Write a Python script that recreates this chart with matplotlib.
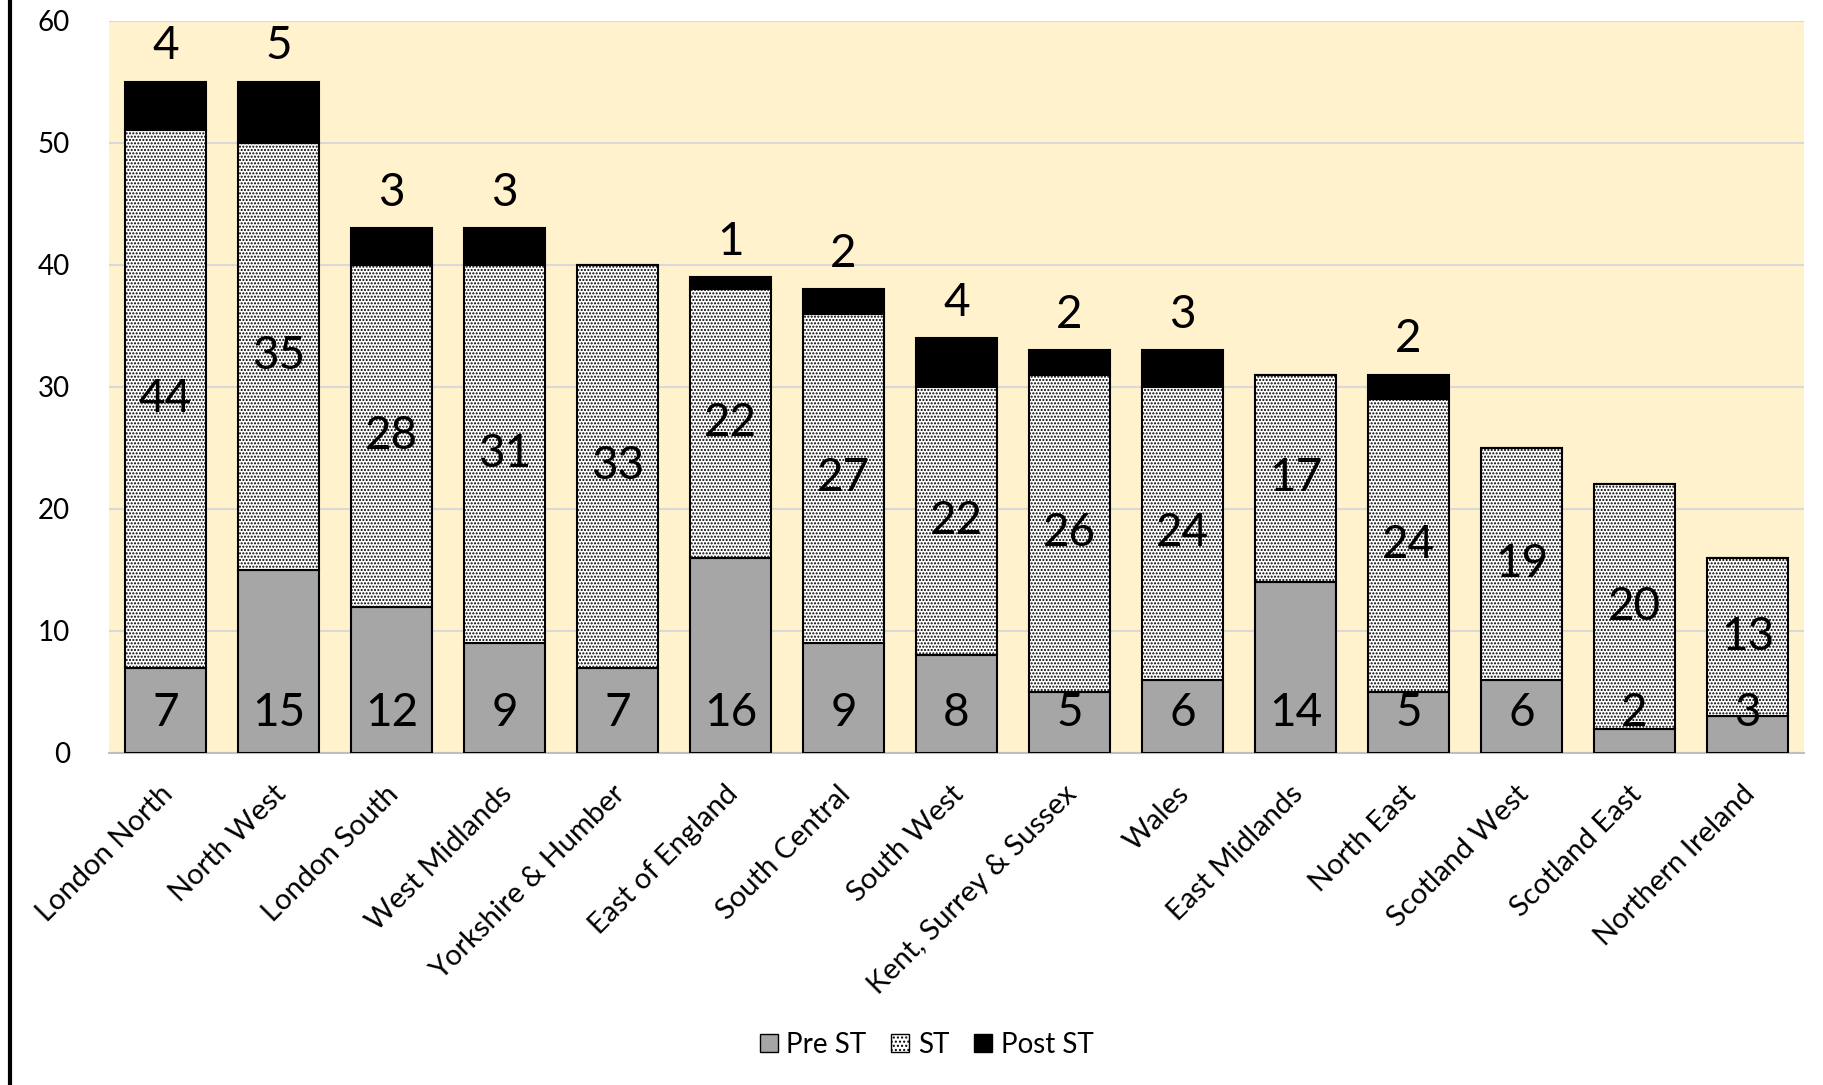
import matplotlib.pyplot as plt
import numpy as np
import matplotlib.transforms as mtransforms
from matplotlib.lines import Line2D
from matplotlib.patches import Patch

plt.rcParams['font.family'] = ['Lato', 'DejaVu Sans']
plt.rcParams['hatch.linewidth'] = 1.0

regions = ['London North', 'North West', 'London South', 'West Midlands',
           'Yorkshire & Humber', 'East of England', 'South Central', 'South West',
           'Kent, Surrey & Sussex', 'Wales', 'East Midlands', 'North East',
           'Scotland West', 'Scotland East', 'Northern Ireland']
pre_st = [7, 15, 12, 9, 7, 16, 9, 8, 5, 6, 14, 5, 6, 2, 3]
st = [44, 35, 28, 31, 33, 22, 27, 22, 26, 24, 17, 24, 19, 20, 13]
post_st = [4, 5, 3, 3, 0, 1, 2, 4, 2, 3, 0, 2, 0, 0, 0]

pre = np.array(pre_st)
mid = np.array(st)
post = np.array(post_st)
x = np.arange(len(regions))

fig = plt.figure(figsize=(18.24, 10.85), dpi=100)
ax = fig.add_axes([0.0598, 0.306, 0.9292, 0.675])
ax.set_facecolor('#FFF2CC')

w = 0.71
ax.bar(x, pre, w, color='#A6A6A6', edgecolor='black', linewidth=1.5, zorder=3)
ax.bar(x, mid, w, bottom=pre, color='white', edgecolor='black', hatch='.....',
       linewidth=1.5, zorder=3)
ax.bar(x, post, w, bottom=pre + mid, color='black', edgecolor='black',
       linewidth=1.5, zorder=3)

fs = 33
for i in range(len(regions)):
    ax.text(x[i], 3.3, str(pre[i]), ha='center', va='center', fontsize=fs, zorder=5)
    ax.text(x[i], pre[i] + mid[i] / 2, str(mid[i]), ha='center', va='center',
            fontsize=fs, zorder=5)
    if post[i] > 0:
        ax.text(x[i], pre[i] + mid[i] + post[i] + 2.9, str(post[i]), ha='center',
                va='center', fontsize=fs, zorder=5)

ax.set_ylim(0, 60)
ax.set_xlim(-0.5, len(regions) - 0.5)
ax.set_yticks(range(0, 61, 10))
ax.yaxis.grid(True, color='#D9D9D9', linewidth=1.5, zorder=0)
ax.set_axisbelow(True)
for s in ['top', 'right', 'left']:
    ax.spines[s].set_visible(False)
ax.spines['bottom'].set_color('#BFBFBF')
ax.spines['bottom'].set_linewidth(1.5)
ax.tick_params(axis='both', length=0, labelsize=20)
ax.tick_params(axis='y', pad=28)
ax.set_xticks(x)
ax.set_xticklabels(regions, rotation=45, ha='right', va='top', rotation_mode='anchor',
                   fontsize=21)
ax.tick_params(axis='x', pad=20)
shift = mtransforms.ScaledTranslation(-0.06, 0, fig.dpi_scale_trans)
for lab in ax.get_xticklabels():
    lab.set_transform(lab.get_transform() + shift)

# left border line
fig.add_artist(Line2D([10 / 1824, 10 / 1824], [0, 1], color='black', linewidth=3))

handles = [Patch(facecolor='#A6A6A6', edgecolor='black', label='Pre ST'),
           Patch(facecolor='white', edgecolor='black', hatch='....', label='ST'),
           Patch(facecolor='black', edgecolor='black', label='Post ST')]
fig.legend(handles=handles, loc='center', bbox_to_anchor=(0.508, 0.037), ncol=3,
           frameon=False, fontsize=20, handlelength=0.65, handleheight=0.65,
           handletextpad=0.3, columnspacing=0.9)

fig.savefig('out.png', dpi=100)
